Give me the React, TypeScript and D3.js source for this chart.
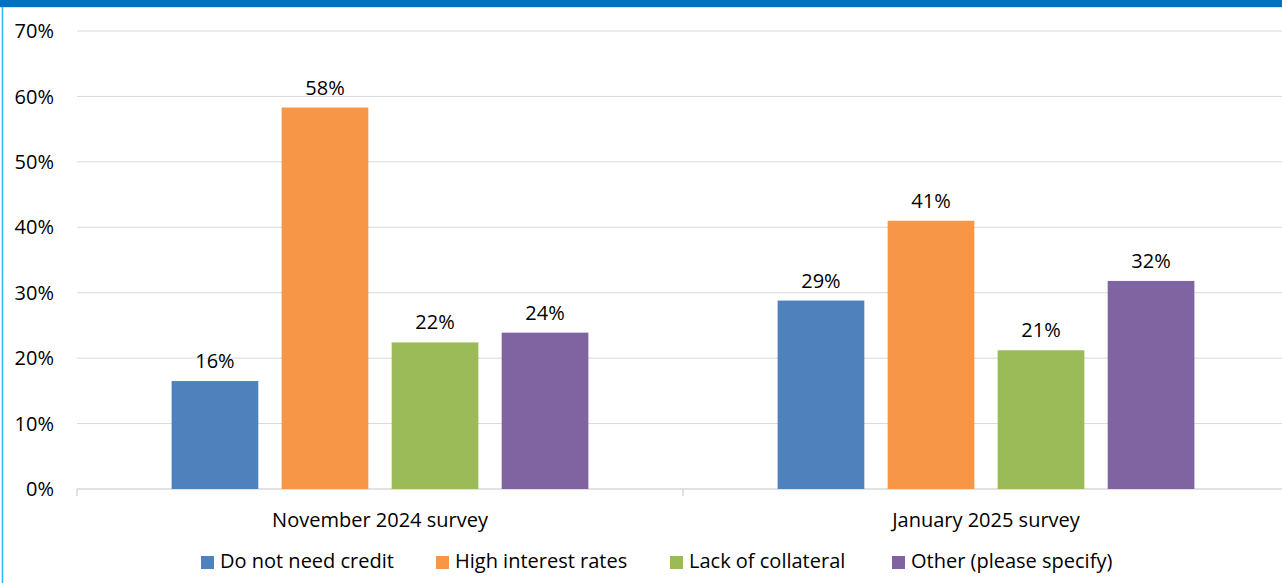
import React from "react";
import * as d3 from "d3";

const categories = ["November 2024 survey", "January 2025 survey"];
const seriesNames = ["Do not need credit", "High interest rates", "Lack of collateral", "Other (please specify)"];
const seriesColors = ["#4F81BD", "#F79646", "#9BBB59", "#8064A2"];
const nov2024 = [16.5, 58.3, 22.4, 23.9];
const jan2025 = [28.8, 41.0, 21.2, 31.8];
const valueLabels = [["16%", "58%", "22%", "24%"], ["29%", "41%", "21%", "32%"]];
const yTicks = [0, 10, 20, 30, 40, 50, 60, 70];

const W = 1282;
const H = 583;
const FONT = "'Open Sans', 'Noto Sans', sans-serif";
const FS = 20;

export default function App() {
  const left = 77;
  const right = 1289;
  const top = 31;
  const bottom = 489;
  const data = [nov2024, jan2025];

  const y = d3.scaleLinear().domain([0, 70]).range([bottom, top]);
  const x0 = d3.scaleBand<string>().domain(categories).range([left, right]).paddingInner(0).paddingOuter(0);
  const x1 = d3
    .scaleBand<string>()
    .domain(seriesNames)
    .range([0, x0.bandwidth()])
    .paddingInner(0.212)
    .paddingOuter(0.86);

  return (
    <svg
      width={W}
      height={H}
      style={{ position: "absolute", left: 0, top: 0, display: "block", background: "#fff" }}
      fontFamily={FONT}
    >
      <rect x={0} y={0} width={W} height={H} fill="#fff" />
      <rect x={0} y={0} width={W} height={7} fill="#0070C0" />
      <rect x={0} y={7} width={W} height={1} fill="#cfe6f5" />
      <line x1={2.5} x2={2.5} y1={7} y2={H} stroke="#2BB5EC" strokeWidth={1.5} />

      {yTicks.map((t) => (
        <g key={t}>
          {t > 0 && <line x1={left} x2={W} y1={y(t)} y2={y(t)} stroke="#d9d9d9" strokeWidth={1} />}
          <text x={54} y={y(t)} dy="0.36em" textAnchor="end" fontSize={FS} fill="#000">
            {t}%
          </text>
        </g>
      ))}

      <line x1={left} x2={W} y1={bottom} y2={bottom} stroke="#d9d9d9" strokeWidth={1.5} />
      {[left, x0.range()[0] + x0.step()].map((tx, i) => (
        <line key={i} x1={tx} x2={tx} y1={bottom} y2={bottom + 7} stroke="#d9d9d9" strokeWidth={1.5} />
      ))}

      {categories.map((c, ci) => (
        <g key={c} transform={`translate(${x0(c)},0)`}>
          {seriesNames.map((s, si) => {
            const v = data[ci][si];
            const bx = x1(s)!;
            const bw = x1.bandwidth();
            return (
              <g key={s}>
                <rect x={bx} y={y(v)} width={bw} height={bottom - y(v)} fill={seriesColors[si]} />
                <text x={bx + bw / 2} y={y(v) - 13} textAnchor="middle" fontSize={FS} fill="#000">
                  {valueLabels[ci][si]}
                </text>
              </g>
            );
          })}
          <text x={x0.bandwidth() / 2} y={527} textAnchor="middle" fontSize={FS} fill="#000">
            {c}
          </text>
        </g>
      ))}

      {seriesNames.map((s, i) => {
        const lx = [201, 436, 670, 892][i];
        return (
          <g key={s}>
            <rect x={lx} y={556} width={13} height={13} fill={seriesColors[i]} />
            <text x={lx + 19} y={568} fontSize={FS} fill="#000">
              {s}
            </text>
          </g>
        );
      })}
    </svg>
  );
}
